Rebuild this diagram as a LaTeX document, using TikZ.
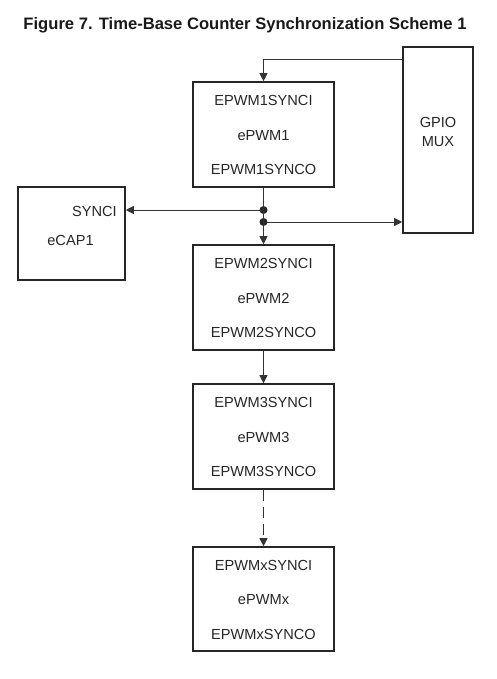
\documentclass[tikz,border=0pt]{standalone}
\usepackage{fontspec}
\setmainfont{Liberation Sans}
\usetikzlibrary{arrows.meta}
\begin{document}
\begin{tikzpicture}[x=1pt,y=-1pt,
  blk/.style={draw=black!85,line width=1.6pt,minimum width=141pt,minimum height=105pt,inner sep=0pt},
  txt/.style={font=\fontsize{14.6}{17}\selectfont,text=black!85,inner sep=0pt},
  wire/.style={draw=black!80,line width=0.9pt},
  arr/.style={wire,-{Triangle[length=8pt,width=8pt]}},
  dot/.style={circle,fill=black!85,minimum size=8pt,inner sep=0pt}]
\useasboundingbox (0,0) rectangle (496,679);
\node[font=\bfseries\fontsize{16.6}{19}\selectfont,text=black!90] (title) at (245,25) {Figure 7. Time-Base Counter Synchronization Scheme 1};
% boxes
\node[blk] (e1) at (263.5,134.5) {};
\node[blk] (e2) at (263.5,297.5) {};
\node[blk] (e3) at (263.5,436.5) {};
\node[blk,minimum height=104pt] (ex) at (263.5,599) {};
\node[blk,minimum width=70pt,minimum height=186pt] (gpio) at (438,140) {};
\node[blk,minimum width=107pt,minimum height=93pt] (ecap) at (71.5,233.5) {};
% texts
\foreach \b/\n in {e1/1,e2/2,e3/3,ex/x}{
  \node[txt] (\b i) at ([yshift=34pt]\b.center) {EPWM\n SYNCI};
  \node[txt] (\b m) at ([yshift=-1pt]\b.center) {ePWM\n};
  \node[txt] (\b o) at ([yshift=-35pt]\b.center) {EPWM\n SYNCO};
}
\node[txt,align=center] (gpiot) at (438,132) {GPIO\\[2pt]MUX};
\node[txt,anchor=east] (synci) at (117,211) {SYNCI};
\node[txt] (ecapt) at (70.5,240) {eCAP1};
% connectors
\coordinate (t) at (263.5,59);
\draw[arr] (gpio.west |- t) -- (t) -- (e1.north);
\node[dot] (d1) at (263.5,210) {};
\node[dot] (d2) at (263.5,222) {};
\draw[wire] (e1.south) -- (d1.center);
\draw[arr] (d1.center) -- (ecap.east |- d1);
\draw[wire] (d1.center) -- (d2.center);
\draw[arr] (d2.center) -- (gpio.west |- d2);
\draw[arr] (d2.center) -- (e2.north);
\draw[arr] (e2.south) -- (e3.north);
\draw[arr,dash pattern=on 11pt off 6pt] (e3.south) -- (ex.north);
\end{tikzpicture}
\end{document}
